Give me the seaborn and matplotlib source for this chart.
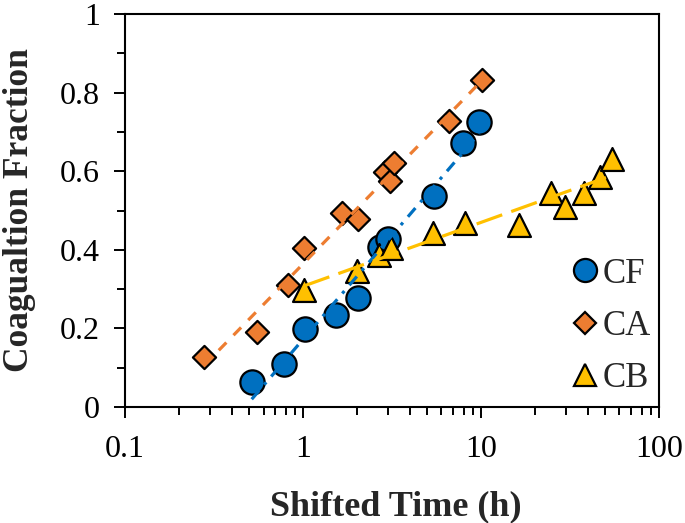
import numpy as np
import pandas as pd
import seaborn as sns
import matplotlib.pyplot as plt
from matplotlib.ticker import MultipleLocator, FuncFormatter, LogLocator
from matplotlib.lines import Line2D

# data
cf_time = [0.515, 0.785, 1.03, 1.53, 2.03, 2.71, 3.01, 5.45, 7.95, 9.78]
cf_frac = [0.064, 0.109, 0.198, 0.234, 0.278, 0.408, 0.427, 0.538, 0.672, 0.725]

ca_time = [0.278, 0.553, 0.826, 1.01, 1.66, 2.03, 2.89, 3.08, 3.25, 6.6, 10.1]
ca_frac = [0.128, 0.192, 0.310, 0.404, 0.493, 0.478, 0.599, 0.575, 0.620, 0.729, 0.832]

cb_time = [1.01, 2.0, 2.68, 3.11, 5.40, 8.13, 16.4, 24.7, 29.6, 38.0, 46.6, 54.2]
cb_frac = [0.298, 0.346, 0.388, 0.404, 0.442, 0.467, 0.463, 0.545, 0.510, 0.545, 0.585, 0.632]

series = ["CF", "CA", "CB"]
colors = {"CF": "#0070C0", "CA": "#ED7D31", "CB": "#FFC000"}
markers = {"CF": "o", "CA": "D", "CB": "^"}
sizes = {"CF": 17.5, "CA": 11.8, "CB": 16.5}
dashes = {"CF": (0, (3.6, 2.4, 1.0, 2.4)), "CA": (0, (3.4, 3.2)), "CB": (0, (8.5, 3.0))}

data = {"CF": (cf_time, cf_frac), "CA": (ca_time, ca_frac), "CB": (cb_time, cb_frac)}

sns.set_style("white")
plt.rcParams["font.family"] = ["Liberation Serif", "DejaVu Serif"]

fig = plt.figure(figsize=(6.85, 5.23), dpi=100)
ax = fig.add_axes([0.1825, 0.2218, 0.962 - 0.1825, 0.9732 - 0.2218])

for name in series:
    t, f = data[name]
    df = pd.DataFrame({"t": t, "f": f})
    sns.scatterplot(data=df, x="t", y="f", marker=markers[name], s=sizes[name] ** 2,
                    color=colors[name], edgecolor="black", linewidth=1.6, ax=ax,
                    zorder=2, legend=False)

# logarithmic trendlines (Excel style), drawn over the markers
for name in series:
    t, f = data[name]
    b, a = np.polyfit(np.log10(t), f, 1)
    xs = np.array([min(t), max(t)])
    fit = pd.DataFrame({"t": xs, "f": a + b * np.log10(xs)})
    sns.lineplot(data=fit, x="t", y="f", color=colors[name], linewidth=2.3,
                 linestyle=dashes[name], ax=ax, zorder=3)

ax.set_xscale("log")
ax.set_xlim(0.1, 100)
ax.set_ylim(0, 1)
ax.yaxis.set_major_locator(MultipleLocator(0.2))
ax.yaxis.set_minor_locator(MultipleLocator(0.1))
ax.xaxis.set_major_locator(LogLocator(base=10))
ax.xaxis.set_minor_locator(LogLocator(base=10, subs=np.arange(2, 10)))
fmt = FuncFormatter(lambda v, p: "{:g}".format(v))
ax.xaxis.set_major_formatter(fmt)
ax.yaxis.set_major_formatter(fmt)
ax.xaxis.set_minor_formatter(FuncFormatter(lambda v, p: ""))

ax.tick_params(which="both", direction="out", left=True, bottom=True,
               top=False, right=False, width=1.4, colors="black")
ax.tick_params(which="major", length=8, labelsize=23)
ax.tick_params(which="minor", length=6)
ax.tick_params(axis="x", which="major", pad=12)
ax.tick_params(axis="y", which="major", pad=10)
for sp in ax.spines.values():
    sp.set_color("black")
    sp.set_linewidth(1.5)

ax.set_xlabel("Shifted Time (h)", fontsize=26, fontweight="bold")
ax.set_ylabel("Coagualtion Fraction", fontsize=25.5, fontweight="bold")
ax.xaxis.set_label_coords(0.507, -0.212)
ax.yaxis.set_label_coords(-0.166, 0.5)

handles = [Line2D([], [], linestyle="none", marker=markers[n], markersize=sizes[n] * 0.95,
                  markerfacecolor=colors[n], markeredgecolor="black", markeredgewidth=1.6)
           for n in series]
ax.legend(handles, series, loc="lower right", frameon=False, fontsize=25,
          handlelength=0.8, handletextpad=0.1, labelspacing=0.56,
          borderaxespad=0.0, bbox_to_anchor=(1.011, -0.006))

fig.savefig("out.png", dpi=100)
